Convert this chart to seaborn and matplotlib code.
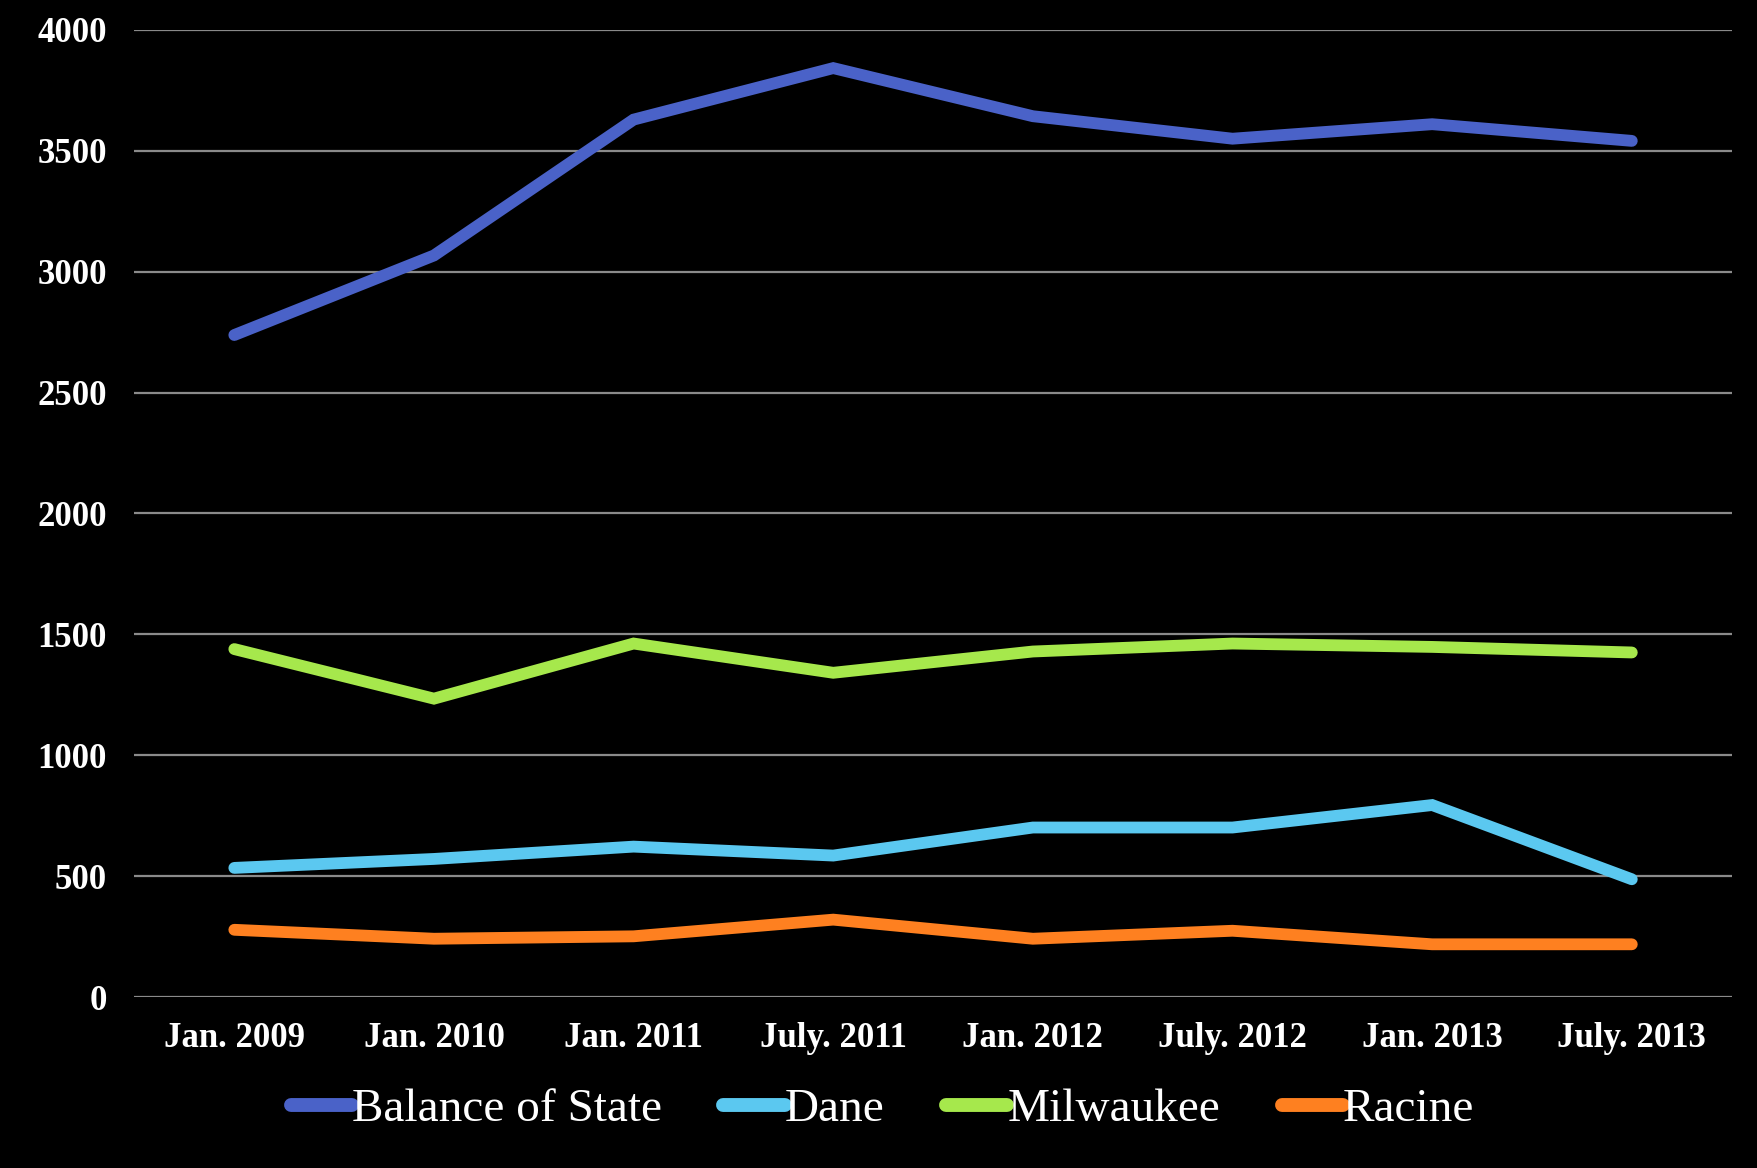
import matplotlib
matplotlib.use("Agg")
import matplotlib.pyplot as plt
import seaborn as sns
import pandas as pd

categories = ["Jan. 2009", "Jan. 2010", "Jan. 2011", "July. 2011",
              "Jan. 2012", "July. 2012", "Jan. 2013", "July. 2013"]
balance_of_state = [2738, 3067, 3629, 3842, 3643, 3550, 3610, 3541]
dane = [534, 571, 622, 585, 701, 701, 794, 487]
milwaukee = [1439, 1234, 1462, 1341, 1429, 1462, 1448, 1425]
racine = [278, 241, 251, 320, 241, 274, 218, 218]
series_names = ["Balance of State", "Dane", "Milwaukee", "Racine"]
colors = ["#4A62C8", "#5BC8F0", "#A6E84C", "#FE8020"]
y_ticks = [0, 500, 1000, 1500, 2000, 2500, 3000, 3500, 4000]

rows = []
for name, vals in zip(series_names, [balance_of_state, dane, milwaukee, racine]):
    for c, v in zip(categories, vals):
        rows.append({"period": c, "value": v, "series": name})
df = pd.DataFrame(rows)

sns.set_style("dark")
plt.rcParams["font.family"] = ["Liberation Serif", "DejaVu Serif"]

fig = plt.figure(figsize=(17.58, 11.68), dpi=100, facecolor="black")
ax = fig.add_axes([0.0765, 0.1464, 0.9085, 0.828])
ax.set_facecolor("black")

sns.lineplot(data=df, x="period", y="value", hue="series", hue_order=series_names,
             palette=colors, sort=False, linewidth=8.5, ax=ax, legend=False,
             solid_capstyle="round", solid_joinstyle="miter")

ax.set_xlim(-0.5, len(categories) - 0.5)
ax.set_ylim(0, 4000)
ax.set_yticks(y_ticks)
ax.set_yticklabels([str(t) for t in y_ticks])
ax.grid(axis="y", color="#8a8a8a", linewidth=1.6)
ax.grid(axis="x", visible=False)
ax.set_axisbelow(True)
for s in ax.spines.values():
    s.set_visible(False)
ax.tick_params(axis="both", length=0, colors="white")
ax.tick_params(axis="x", pad=18)
ax.tick_params(axis="y", pad=20)
for lab in ax.get_xticklabels():
    lab.set_fontsize(25)
    lab.set_fontweight("bold")
    lab.set_color("white")
for lab in ax.get_yticklabels():
    lab.set_fontsize(25)
    lab.set_fontweight("bold")
    lab.set_color("white")
ax.set_xlabel("")
ax.set_ylabel("")

handles = [plt.Line2D([0], [0], color=c, linewidth=10, solid_capstyle="round") for c in colors]
leg = fig.legend(handles, series_names, loc="center", bbox_to_anchor=(0.502, 0.05),
                 ncol=4, frameon=False, fontsize=34, handlelength=1.3,
                 handletextpad=0.0, columnspacing=1.3, labelcolor="white")

fig.savefig("out.png", dpi=100, facecolor="black")
